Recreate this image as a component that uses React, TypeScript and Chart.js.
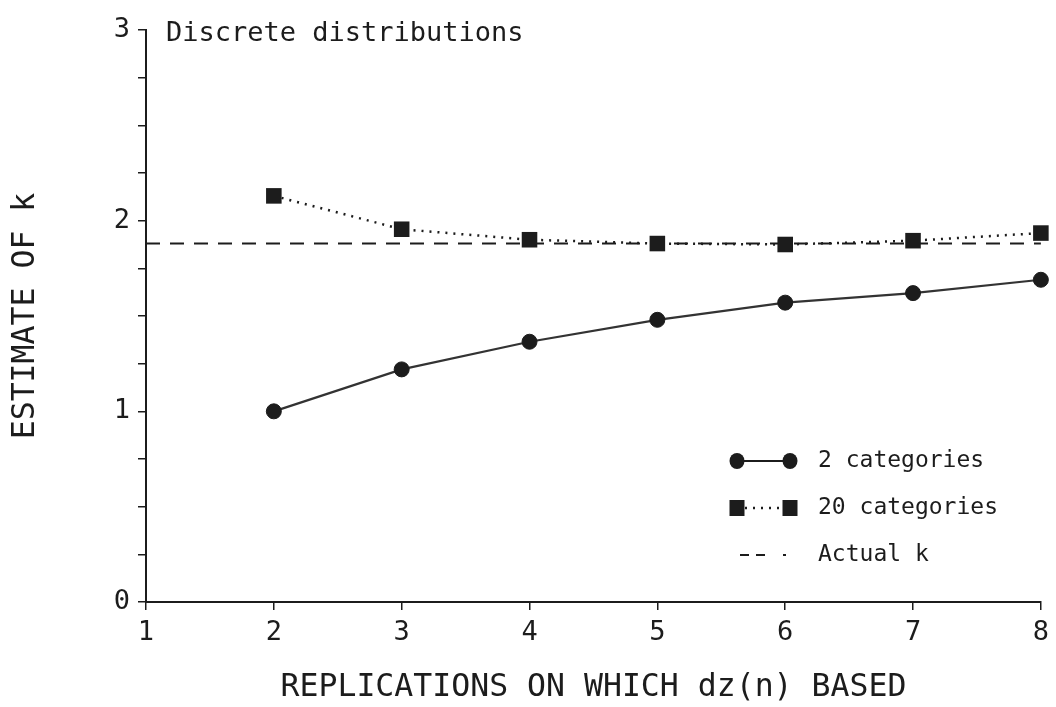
import React, { useEffect, useRef } from "react";
import { Chart, registerables } from "chart.js";

Chart.register(...registerables);

// ---- data ----
const replications = [2, 3, 4, 5, 6, 7, 8];
const twoCategories = [1.0, 1.22, 1.365, 1.48, 1.57, 1.62, 1.69];
const twentyCategories = [2.13, 1.955, 1.9, 1.88, 1.875, 1.895, 1.935];
const actualKValue = 1.88;
const actualKSpan = [1, 8];
const xRange = [1, 8];
const yRange = [0, 3];
const yLabelledTicks = [0, 1, 2, 3];

const chartTitle = "Discrete distributions";
const xTitle = "REPLICATIONS ON WHICH dz(n) BASED";
const yTitle = "ESTIMATE OF k";
const legendLabels = ["2 categories", "20 categories", "Actual k"];

const INK = "#1c1c1c";
const FONT = "'DejaVu Sans Mono', monospace";

const overlayPlugin = {
  id: "overlay",
  afterDatasetsDraw(chart: any) {
    const { ctx, chartArea } = chart;
    ctx.save();
    ctx.fillStyle = INK;
    ctx.font = `27px ${FONT}`;
    ctx.textAlign = "left";
    ctx.textBaseline = "middle";
    ctx.fillText(chartTitle, chartArea.left + 20, chartArea.top + 4);

    // legend
    const x0 = 737;
    const x1 = 790;
    const tx = 818;
    const rows = [461, 508, 555];
    ctx.strokeStyle = INK;
    ctx.fillStyle = INK;
    ctx.lineWidth = 2;
    ctx.setLineDash([]);
    ctx.beginPath();
    ctx.moveTo(x0, rows[0]);
    ctx.lineTo(x1, rows[0]);
    ctx.stroke();
    for (const x of [x0, x1]) {
      ctx.beginPath();
      ctx.ellipse(x, rows[0], 7.5, 8, 0, 0, Math.PI * 2);
      ctx.fill();
    }
    ctx.setLineDash([2, 6]);
    ctx.lineWidth = 2.5;
    ctx.beginPath();
    ctx.moveTo(x0, rows[1]);
    ctx.lineTo(x1, rows[1]);
    ctx.stroke();
    ctx.setLineDash([]);
    for (const x of [x0, x1]) {
      ctx.fillRect(x - 7.5, rows[1] - 8, 15, 16);
    }
    ctx.setLineDash([9, 7]);
    ctx.lineWidth = 2;
    ctx.beginPath();
    ctx.moveTo(740, rows[2]);
    ctx.lineTo(772, rows[2]);
    ctx.stroke();
    ctx.setLineDash([]);
    ctx.fillRect(783, rows[2] - 1, 3, 2);

    ctx.font = `23px ${FONT}`;
    ctx.textAlign = "left";
    ctx.textBaseline = "middle";
    legendLabels.forEach((t, i) => ctx.fillText(t, tx, rows[i]));
    ctx.restore();
  },
};

export default function App() {
  const ref = useRef<HTMLCanvasElement | null>(null);

  useEffect(() => {
    if (!ref.current) return;
    const chart = new Chart(ref.current, {
      type: "line",
      data: {
        datasets: [
          {
            label: legendLabels[2],
            data: actualKSpan.map((x) => ({ x, y: actualKValue })),
            borderColor: INK,
            borderWidth: 2,
            borderDash: [14, 10],
            pointRadius: 0,
            fill: false,
            clip: false,
          },
          {
            label: legendLabels[1],
            data: replications.map((x, i) => ({ x, y: twentyCategories[i] })),
            borderColor: INK,
            borderWidth: 2.5,
            borderDash: [2, 6],
            pointStyle: "rect",
            pointRadius: 11,
            pointBackgroundColor: INK,
            pointBorderColor: INK,
            pointBorderWidth: 0,
            fill: false,
            clip: false,
          },
          {
            label: legendLabels[0],
            data: replications.map((x, i) => ({ x, y: twoCategories[i] })),
            borderColor: "#333",
            borderWidth: 2.2,
            pointStyle: "circle",
            pointRadius: 7.5,
            pointBackgroundColor: INK,
            pointBorderColor: INK,
            pointBorderWidth: 1,
            fill: false,
            clip: false,
          },
        ],
      },
      options: {
        responsive: false,
        animation: false,
        devicePixelRatio: 1,
        layout: { padding: { top: 30, right: 13, left: 0, bottom: 0 } },
        plugins: {
          legend: { display: false },
          tooltip: { enabled: false },
          title: { display: false },
        },
        scales: {
          x: {
            type: "linear",
            min: xRange[0],
            max: xRange[1],
            afterFit: (s: any) => {
              s.height = 105;
            },
            ticks: {
              stepSize: 1,
              color: INK,
              font: { family: FONT, size: 27 },
              padding: 7,
            },
            grid: {
              display: true,
              drawOnChartArea: false,
              drawTicks: true,
              tickLength: 8,
              color: INK,
              lineWidth: 1.5,
            },
            border: { display: true, color: INK, width: 2 },
            title: {
              display: true,
              text: xTitle,
              color: INK,
              font: { family: FONT, size: 31.5, lineHeight: 1.2 },
              padding: { top: 0, bottom: 0 },
            },
          },
          y: {
            min: yRange[0],
            max: yRange[1],
            afterFit: (s: any) => {
              s.width = 146;
            },
            ticks: {
              stepSize: 0.25,
              autoSkip: false,
              color: INK,
              font: { family: FONT, size: 27 },
              padding: 8,
              callback: (v: any) =>
                yLabelledTicks.includes(Number(v)) ? String(v) : "",
            },
            grid: {
              display: true,
              drawOnChartArea: false,
              drawTicks: true,
              tickLength: 8,
              color: INK,
              lineWidth: 1.5,
            },
            border: { display: true, color: INK, width: 2 },
            title: {
              display: true,
              text: yTitle,
              color: INK,
              font: { family: FONT, size: 31.5, lineHeight: 1.2 },
              padding: { top: 7, bottom: 0 },
            },
          },
        },
      },
      plugins: [overlayPlugin],
    });
    return () => chart.destroy();
  }, []);

  return (
    <div style={{ position: "fixed", left: 0, top: 0, width: 1056, height: 707, background: "#fff" }}>
      <canvas ref={ref} width={1056} height={707} style={{ display: "block" }} />
    </div>
  );
}
